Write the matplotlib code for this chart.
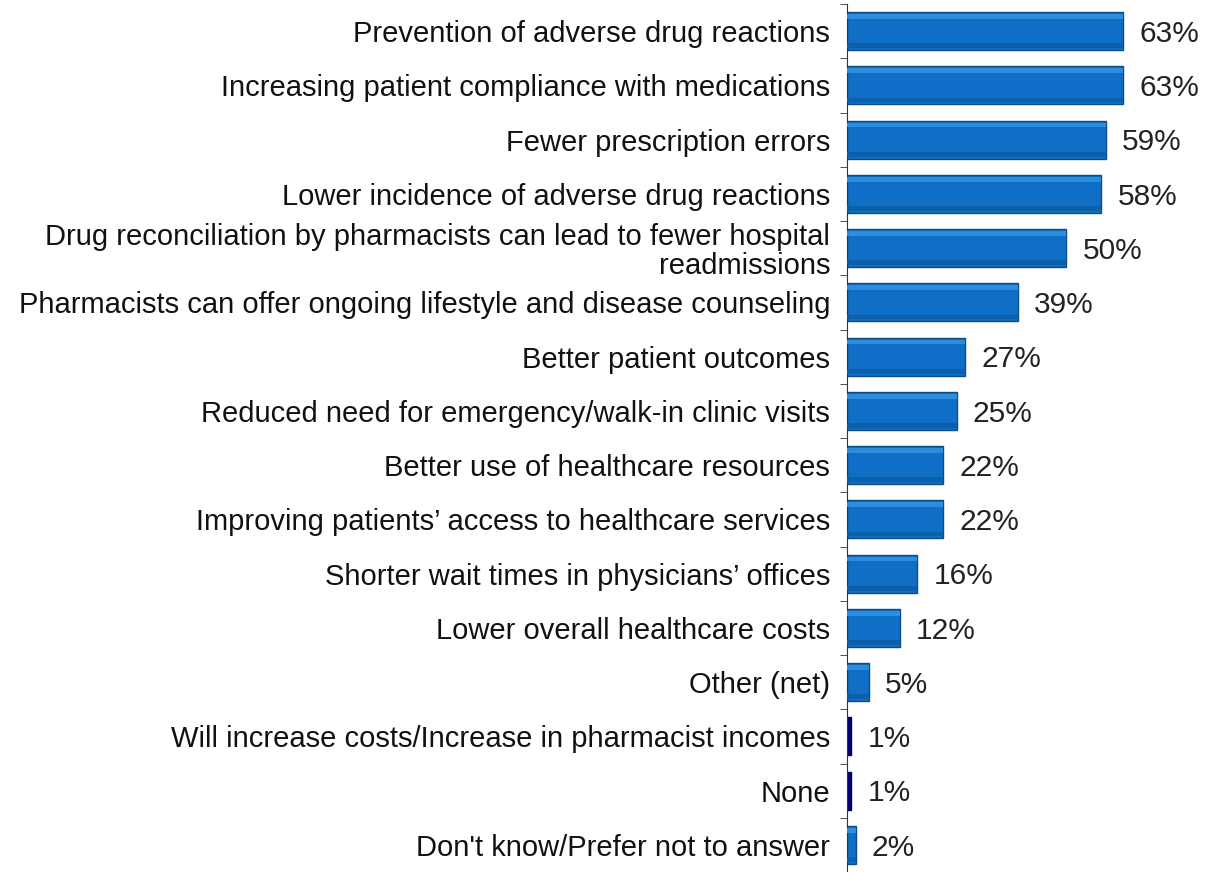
import matplotlib.pyplot as plt
import numpy as np

# survey answers, top to bottom
labels = [
    "Prevention of adverse drug reactions",
    "Increasing patient compliance with medications",
    "Fewer prescription errors",
    "Lower incidence of adverse drug reactions",
    "Drug reconciliation by pharmacists can lead to fewer hospital\nreadmissions",
    "Pharmacists can offer ongoing lifestyle and disease counseling",
    "Better patient outcomes",
    "Reduced need for emergency/walk-in clinic visits",
    "Better use of healthcare resources",
    "Improving patients\u2019 access to healthcare services",
    "Shorter wait times in physicians\u2019 offices",
    "Lower overall healthcare costs",
    "Other (net)",
    "Will increase costs/Increase in pharmacist incomes",
    "None",
    "Don't know/Prefer not to answer",
]
pct = [63, 63, 59, 58, 50, 39, 27, 25, 22, 22, 16, 12, 5, 1, 1, 2]
negative = [False] * 13 + [True, True, False]

plt.rcParams['font.family'] = ['Liberation Sans', 'DejaVu Sans']

fig = plt.figure(figsize=(12.11, 8.72), dpi=100)
ax = fig.add_axes([0.6994, 0.0, 0.3006, 0.9954])

n = len(labels)
y = np.arange(n)
colors = ['#000080' if neg else '#0f6fc6' for neg in negative]
edges = ['#00005a' if neg else '#0b4d88' for neg in negative]

ax.barh(y, pct, height=0.7, color=colors, edgecolor=edges, linewidth=1, zorder=2)
# soft bevel: lighter band on top, darker band at the bottom
hl = [0 if neg else v for v, neg in zip(pct, negative)]
ax.barh(y - 0.27, hl, height=0.09, color='#2b8ddc', linewidth=0, zorder=3)
ax.barh(y + 0.27, hl, height=0.09, color='#0c5fab', linewidth=0, zorder=3)

for yi, v in zip(y, pct):
    ax.text(v + 3.7, yi + 0.05, f"{v}%", va='center', ha='left',
            fontsize=21.5, color='#222222')

ax.set_ylim(n - 0.5, -0.5)
ax.set_xlim(0, 83)
ax.set_yticks(y)
ax.set_yticklabels(labels, fontsize=21, color='#111111')
ax.tick_params(axis='y', which='major', length=0, pad=12)
ax.set_yticks(np.arange(n + 1) - 0.5, minor=True)
ax.tick_params(axis='y', which='minor', length=5, direction='out', color='#333333')
for lbl in ax.get_yticklabels():
    lbl.set_horizontalalignment('right')
    lbl.set_multialignment('right')
    lbl.set_linespacing(1.05)

ax.set_xticks([])
for s in ['top', 'right', 'bottom']:
    ax.spines[s].set_visible(False)
ax.spines['left'].set_color('#333333')

fig.savefig('out.png', dpi=100)
